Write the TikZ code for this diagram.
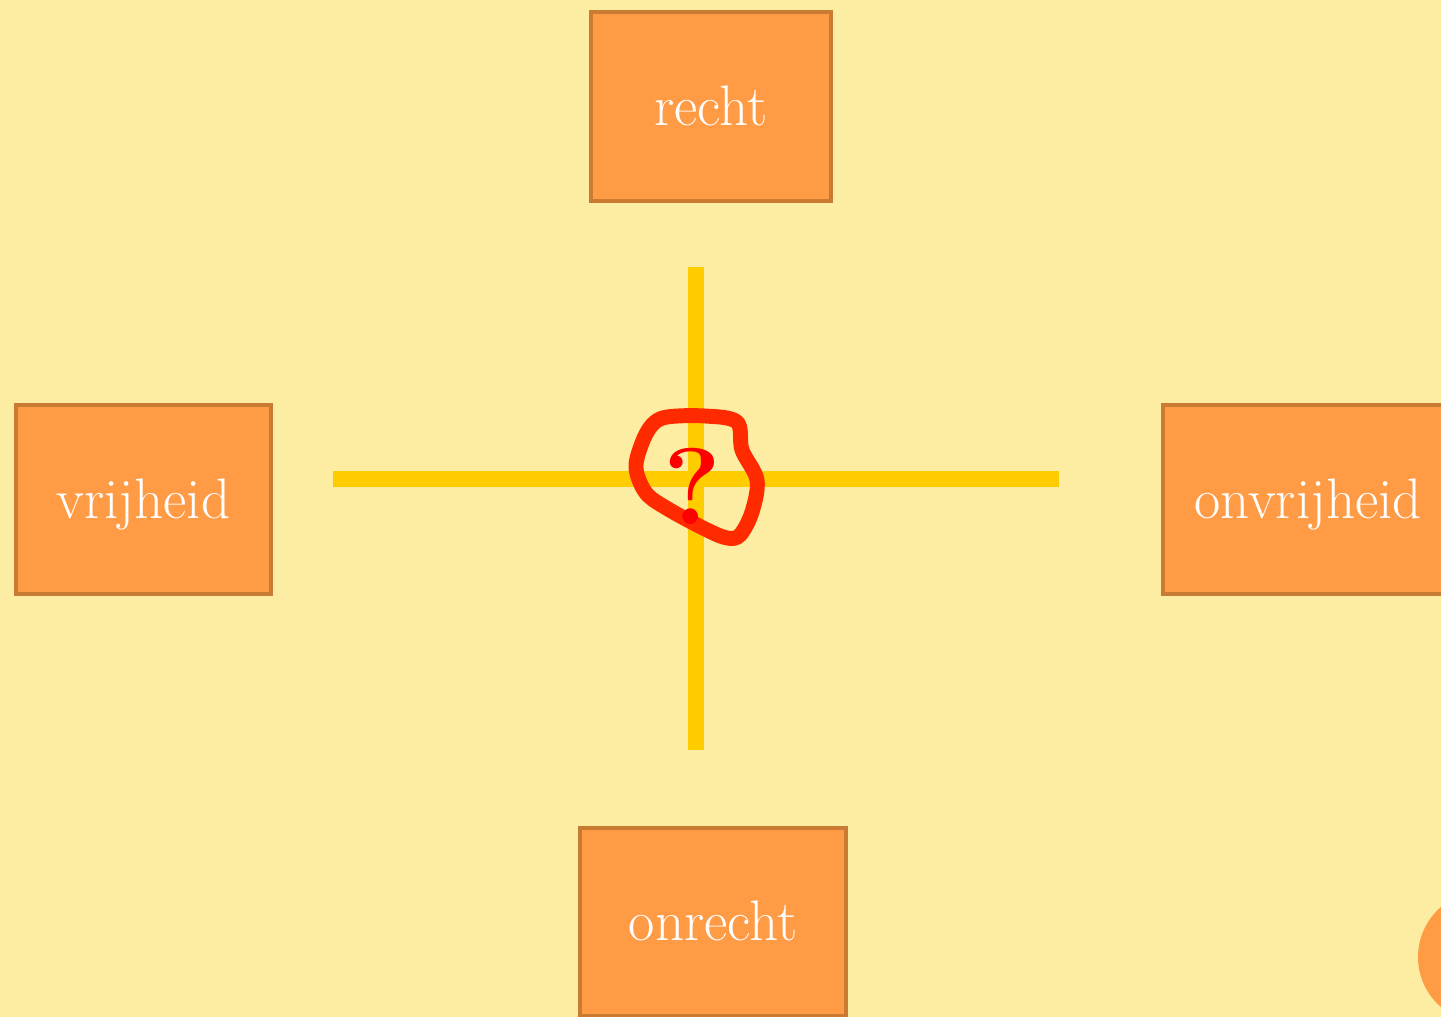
\documentclass[tikz,border=0pt]{standalone}
\usepackage{tikz}
\usetikzlibrary{positioning}
\definecolor{bgyellow}{HTML}{FCEDA2}
\definecolor{boxfill}{HTML}{FF9A45}
\definecolor{boxedge}{HTML}{C97A33}
\definecolor{crossyellow}{HTML}{FFCC00}
\definecolor{looped}{HTML}{FF2A00}
\begin{document}
\begin{tikzpicture}[x=0.02cm,y=-0.02cm,
    termbox/.style={rectangle,fill=boxfill,draw=boxedge,line width=2.3pt,
        minimum height=3.78cm,text=white,text height=21.5pt,text depth=0pt,
        font=\fontsize{32.5}{38}\selectfont},
    crossline/.style={crossyellow,line width=9pt},
    loopline/.style={looped,line width=8.5pt,line cap=round,line join=round}]
        \useasboundingbox (0,0) rectangle (1441,1017);
        \clip (0,0) rectangle (1441,1017);
        \fill[bgyellow] (0,0) rectangle (1441,1017);
        \path
        % top
        +(711, 106.5)  node[termbox,minimum width=4.8cm]  (recht) {recht}
        % left
        +(143.5, 499.5)  node[termbox,minimum width=5.1cm]  (vrijheid) {vrijheid}
        % right
        +(1308, 499.5)  node[termbox,minimum width=5.8cm]  (onvrijheid) {onvrijheid}
        % bottom
        +(713, 922)  node[termbox,minimum width=5.32cm]  (onrecht) {onrecht};
        % cross
        \coordinate (west) at (333, 479);
        \coordinate (east) at (1059, 479);
        \coordinate (north) at (696, 267);
        \coordinate (south) at (696, 750);
        \draw[crossline] (west)--(east);
        \draw[crossline] (north)--(south);
        % circled question
        \draw[loopline] plot[smooth cycle,tension=0.55] coordinates {
            (667,417) (705,416) (737,422) (742,450) (757,480) (752,512)
            (740,535) (727,538) (705,529) (668,509) (646,493) (636,468)
            (642,443) (652,425)};
        \node[text=red,font=\fontsize{62}{70}\selectfont\bfseries] (question) at (692,486) {?};
        % corner
        \fill[boxfill] (1484,957) circle (1.32cm);
    \end{tikzpicture}
\end{document}
